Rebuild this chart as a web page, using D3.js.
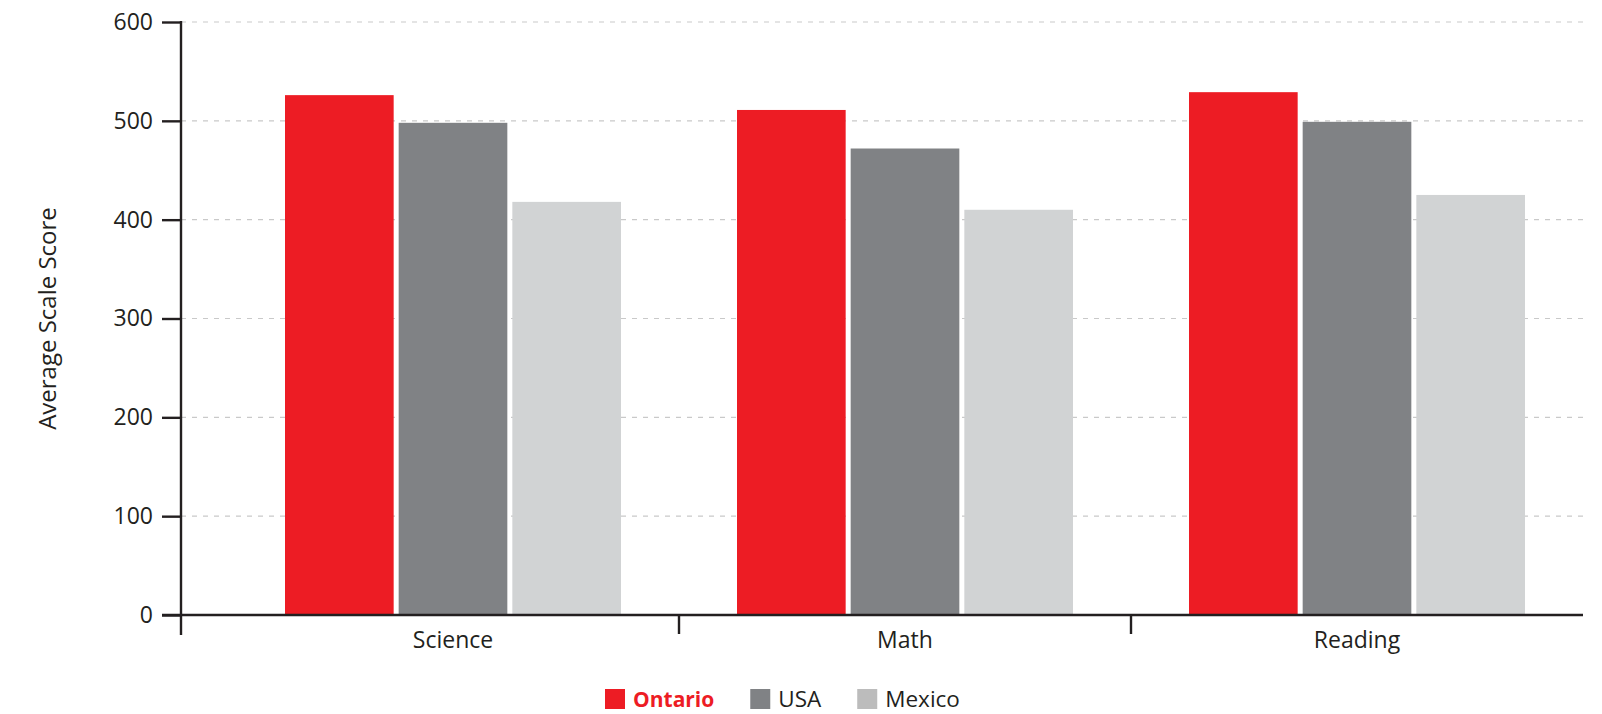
<!DOCTYPE html>
<html>
<head>
<meta charset="utf-8">
<script src="https://cdn.jsdelivr.net/npm/d3@7"></script>
<style>
  html, body { margin: 0; padding: 0; background: #ffffff; }
  svg { display: block; font-family: "Open Sans", sans-serif; }
</style>
</head>
<body>
<svg id="chart" width="1602" height="714"></svg>
<script>
// ---- data ----
const categories = ["Science", "Math", "Reading"];
const seriesNames = ["Ontario", "USA", "Mexico"];
const ontario = [526, 511, 529];
const usa = [498, 472, 499];
const mexico = [418, 410, 425];
const yTicks = [0, 100, 200, 300, 400, 500, 600];
const yTitle = "Average Scale Score";

const seriesValues = [ontario, usa, mexico];
const barColors = ["#ed1c24", "#808285", "#d1d3d4"];
const swatchColors = ["#ed1c24", "#808285", "#bcbcbc"];

// ---- layout ----
const svg = d3.select("#chart");
const axisX = 181;          // y-axis position
const plotRight = 1583;
const yTop = 22, yBottom = 615;
const ink = "#231f20";

const y = d3.scaleLinear().domain([0, 600]).range([yBottom, yTop]);
const x = d3.scaleBand().domain(categories).range([227, plotRight]).padding(0);
const groupInset = 58;
const x1 = d3.scaleBand().domain(seriesNames)
  .range([groupInset, x.bandwidth() - groupInset])
  .paddingInner(0.044).paddingOuter(0);

// gridlines
svg.append("g").selectAll("line").data(yTicks.filter(d => d > 0)).join("line")
  .attr("x1", axisX).attr("x2", plotRight)
  .attr("y1", d => y(d)).attr("y2", d => y(d))
  .attr("stroke", "#c9c9c9").attr("stroke-width", 1.2)
  .attr("stroke-dasharray", "5,6");

// bars
const groups = svg.append("g").selectAll("g").data(categories).join("g")
  .attr("transform", d => `translate(${x(d)},0)`);
groups.selectAll("rect")
  .data((c, i) => seriesNames.map((s, j) => ({ s, j, v: seriesValues[j][i] })))
  .join("rect")
  .attr("x", d => x1(d.s))
  .attr("width", x1.bandwidth())
  .attr("y", d => y(d.v))
  .attr("height", d => y(0) - y(d.v))
  .attr("fill", d => barColors[d.j]);

// y axis
const yAxis = d3.axisLeft(y).tickValues(yTicks).tickSize(19).tickPadding(9).tickSizeOuter(0);
const gy = svg.append("g").attr("transform", `translate(${axisX},0)`).call(yAxis);
gy.select(".domain").remove();
gy.selectAll(".tick line").attr("stroke", ink).attr("stroke-width", 2.4);
gy.selectAll(".tick text").attr("fill", ink).style("font-size", "23px")
  .style("font-family", "'Open Sans', sans-serif");
svg.append("line")
  .attr("x1", axisX).attr("x2", axisX)
  .attr("y1", y(600) - 1).attr("y2", yBottom + 20)
  .attr("stroke", ink).attr("stroke-width", 2.4);

// x axis
const xAxis = d3.axisBottom(x).tickSize(0).tickPadding(17).tickSizeOuter(0);
const gx = svg.append("g").attr("transform", `translate(0,${yBottom})`).call(xAxis);
gx.select(".domain").remove();
gx.selectAll(".tick text").attr("fill", ink).style("font-size", "23px")
  .style("font-family", "'Open Sans', sans-serif");
svg.append("line")
  .attr("x1", axisX - 19).attr("x2", plotRight)
  .attr("y1", yBottom).attr("y2", yBottom)
  .attr("stroke", ink).attr("stroke-width", 2.4);
// category boundary ticks
svg.append("g").selectAll("line").data(categories.slice(1)).join("line")
  .attr("x1", d => x(d)).attr("x2", d => x(d))
  .attr("y1", yBottom).attr("y2", yBottom + 19)
  .attr("stroke", ink).attr("stroke-width", 2.4);

// y title
svg.append("text")
  .attr("transform", `translate(56,${(yTop + yBottom) / 2}) rotate(-90)`)
  .attr("text-anchor", "middle")
  .attr("fill", ink)
  .style("font-size", "24px")
  .text(yTitle);

// legend
const legend = svg.append("g");
let lx = 605;
seriesNames.forEach((name, i) => {
  legend.append("rect").attr("x", lx).attr("y", 689).attr("width", 20).attr("height", 20)
    .attr("fill", swatchColors[i]);
  const t = legend.append("text").attr("x", lx + 28).attr("y", 707)
    .attr("fill", i === 0 ? "#ed1c24" : ink)
    .style("font-size", i === 0 ? "21px" : "22.5px")
    .style("font-weight", i === 0 ? "700" : "400")
    .text(name);
  lx += 28 + t.node().getComputedTextLength() + 36;
});
</script>
</body>
</html>
